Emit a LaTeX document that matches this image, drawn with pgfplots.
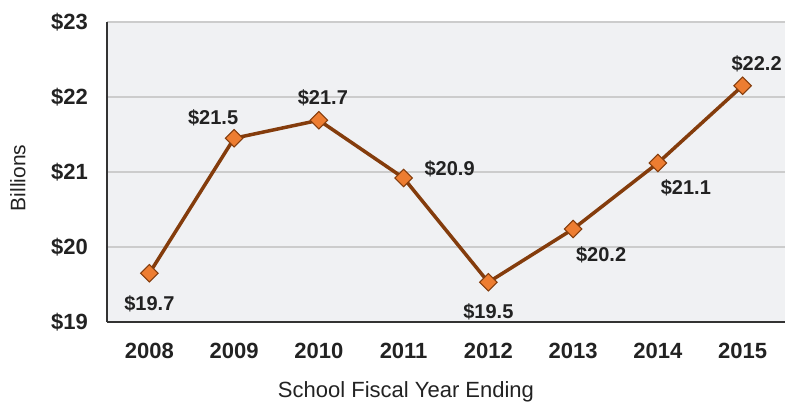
\documentclass[border=0pt]{standalone}
\usepackage{fontspec}
\setmainfont{Liberation Sans}
\usepackage{pgfplots}
\pgfplotsset{compat=1.18}
\definecolor{linebrown}{HTML}{843C0C}
\definecolor{mkorange}{HTML}{ED7D31}
\definecolor{bggray}{HTML}{F0F1F3}
\definecolor{gridgray}{HTML}{CCCCCC}
\definecolor{axdark}{HTML}{333333}
\definecolor{txt}{HTML}{222222}
\begin{document}
\begin{tikzpicture}
\useasboundingbox (0,0) rectangle (785pt,402pt);
\begin{axis}[
  at={(107pt,80pt)}, anchor=south west,
  scale only axis, width=678pt, height=300pt,
  xmin=-0.5, xmax=7.5, ymin=19, ymax=23,
  axis lines=left, axis line style={-, axdark, line width=2.5pt},
  axis background/.style={fill=bggray},
  xtick={0,1,2,3,4,5,6,7},
  xticklabels={2008,2009,2010,2011,2012,2013,2014,2015},
  ytick={19,20,21,22,23},
  yticklabels={\$19,\$20,\$21,\$22,\$23},
  major tick length=0pt,
  ymajorgrids, grid style={gridgray, line width=1.5pt},
  tick label style={font=\fontsize{22}{26}\selectfont\bfseries, text=txt},
  yticklabel style={inner sep=0pt, anchor=east, xshift=-19pt},
  xticklabel style={inner sep=0pt, anchor=north, yshift=-21pt},
  xlabel={School Fiscal Year Ending},
  xlabel style={at={(axis description cs:0.441,0)}, anchor=base, yshift=-75pt, inner sep=0pt, font=\fontsize{22}{26}\selectfont, text=txt},
  ylabel={Billions},
  ylabel style={at={(axis description cs:-0.1313,0.48)}, anchor=center, inner sep=0pt, font=\fontsize{21}{25}\selectfont, text=txt},
  clip=false,
]
\addplot[linebrown, line width=3.5pt, mark=square*, mark size=6.2pt,
  mark options={rotate=45, fill=mkorange, draw=linebrown, line width=1pt}]
  coordinates {(0,19.65) (1,21.45) (2,21.69) (3,20.92) (4,19.53) (5,20.24) (6,21.12) (7,22.15)};
\tikzset{dl/.style={font=\fontsize{20}{24}\selectfont\bfseries, text=txt, inner sep=0pt}}
\node[dl, xshift=0pt,  yshift=-31pt] at (axis cs:0,19.65) {\$19.7};
\node[dl, xshift=-21pt, yshift=20pt] at (axis cs:1,21.45) {\$21.5};
\node[dl, xshift=4pt,  yshift=22pt] at (axis cs:2,21.69) {\$21.7};
\node[dl, xshift=46pt, yshift=9pt]  at (axis cs:3,20.92) {\$20.9};
\node[dl, xshift=0pt,  yshift=-30pt] at (axis cs:4,19.53) {\$19.5};
\node[dl, xshift=28pt, yshift=-26pt] at (axis cs:5,20.24) {\$20.2};
\node[dl, xshift=28pt, yshift=-25pt] at (axis cs:6,21.12) {\$21.1};
\node[dl, xshift=14pt, yshift=22pt] at (axis cs:7,22.15) {\$22.2};
\end{axis}
\end{tikzpicture}
\end{document}
